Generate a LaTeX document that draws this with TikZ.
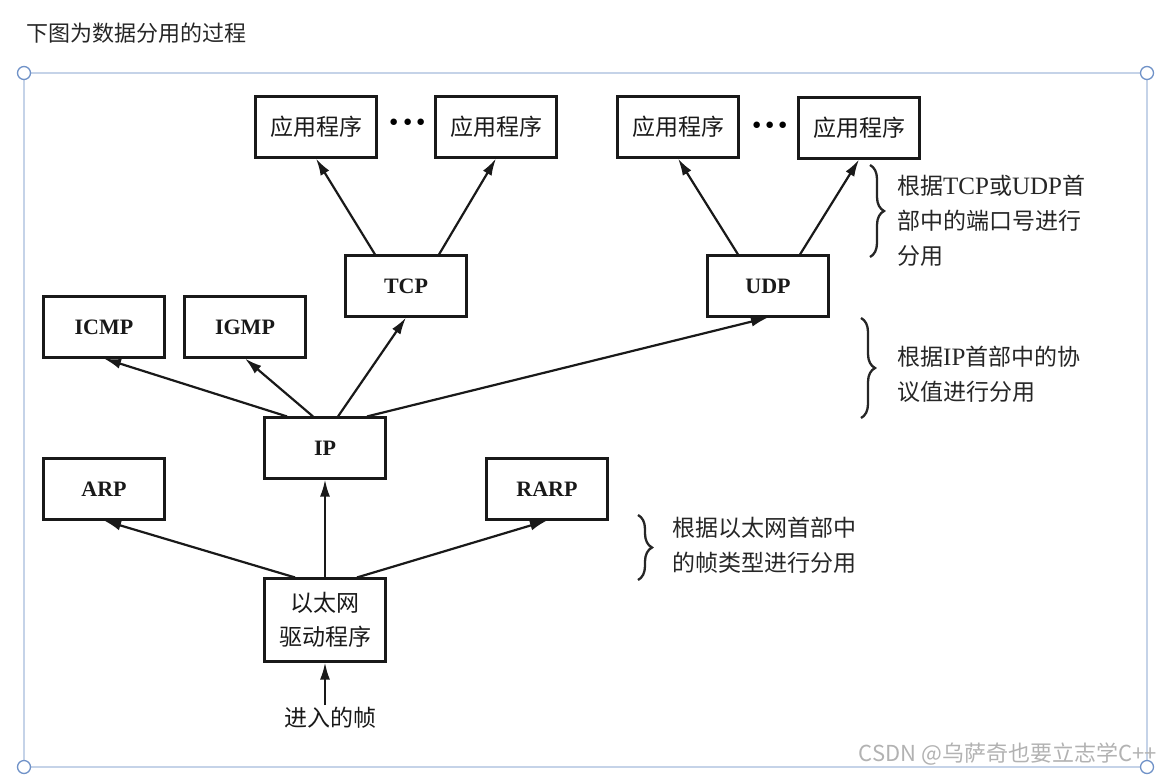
\documentclass[tikz,border=0pt]{standalone}
\usepackage{fontspec}
\setmainfont{Liberation Serif}
\newfontfamily\cjk{Noto Sans CJK SC}
\usetikzlibrary{arrows.meta,decorations.pathreplacing}
\definecolor{framecol}{HTML}{C5D3E8}
\definecolor{handlecol}{HTML}{7092C8}
\newcommand\latin[1]{{\rmfamily\fontsize{25}{35}\selectfont #1}}

\begin{document}
\begin{tikzpicture}
	[
		x=1pt, y=-1pt,
		box/.style = {
			shape=rectangle, draw=black!90, line width=2.1pt,
			minimum width=121pt, minimum height=61pt,
			align=center, text=black!90, inner sep=0pt
		},
		proto/.style = {box, font=\fontsize{22}{22}\selectfont\bfseries},
		app/.style = {box, font=\fontsize{23}{23}\selectfont\cjk},
		arr/.style = {-{Latex[length=17pt,width=10pt]}, line width=2.2pt, draw=black!90},
		note/.style = {
			anchor=north west, align=left, inner sep=0pt, text=black!85,
			font=\fontsize{23}{35}\selectfont\cjk
		},
		brace/.style = {decorate, decoration={brace, amplitude=14pt}, line width=2.3pt, draw=black!85},
		handle/.style = {circle, draw=handlecol, fill=white, line width=1.3pt, minimum size=13pt, inner sep=0pt},
		ellipsis/.style = {inner sep=0pt, font=\fontsize{40}{40}\selectfont\bfseries}
	]
	\useasboundingbox (0,0) rectangle (1164,777);

	% page around the figure
	\node[anchor=west, text=black!85, font=\fontsize{22}{22}\selectfont\cjk] (title) at (23,33) {下图为数据分用的过程};
	\draw[framecol, line width=1.8pt] (24,73) rectangle (1147,767);
	\foreach \cx/\cy in {24/73, 1147/73, 1147/767, 24/767}
		\node[handle] at (\cx,\cy) {};

	% applications
	\node[app] (app1) at (316,127) {应用程序};
	\node[app] (app2) at (496,127) {应用程序};
	\node[app] (app3) at (678,127) {应用程序};
	\node[app] (app4) at (859,128) {应用程序};
	\node[ellipsis] (dots1) at (408,127) {···};
	\node[ellipsis] (dots2) at (770,130) {···};

	% transport, network, link
	\node[proto] (tcp) at (406,286) {TCP};
	\node[proto] (udp) at (768,286) {UDP};
	\node[proto] (icmp) at (104,327) {ICMP};
	\node[proto] (igmp) at (245,327) {IGMP};
	\node[proto] (ip) at (325,448) {IP};
	\node[proto] (arp) at (104,489) {ARP};
	\node[proto] (rarp) at (547,489) {RARP};
	\node[app, minimum height=83pt, font=\fontsize{23}{34}\selectfont\cjk] (eth) at (325,620) {以太网\\驱动程序};
	\node[inner sep=2pt, text=black!90, font=\fontsize{23}{23}\selectfont\cjk] (frame) at (330,718) {进入的帧};

	% arrows
	\draw[arr] (frame.north -| eth.south) -- (eth.south);
	\draw[arr] ([xshift=-30pt]eth.north) -- (arp.south);
	\draw[arr] (eth.north) -- (ip.south);
	\draw[arr] ([xshift=32pt]eth.north) -- (rarp.south);
	\draw[arr] ([xshift=-38pt]ip.north) -- (icmp.south);
	\draw[arr] ([xshift=-12pt]ip.north) -- (igmp.south);
	\draw[arr] ([xshift=13pt]ip.north) -- (tcp.south);
	\draw[arr] ([xshift=42pt]ip.north) -- (udp.south);
	\draw[arr] ([xshift=-31pt]tcp.north) -- (app1.south);
	\draw[arr] ([xshift=33pt]tcp.north) -- (app2.south);
	\draw[arr] ([xshift=-30pt]udp.north) -- (app3.south);
	\draw[arr] ([xshift=32pt]udp.north) -- (app4.south);

	% demultiplexing notes
	\draw[brace] (870,165) -- (870,257);
	\node[note] (note1) at (897,175) {根据\latin{TCP}或\latin{UDP}首\\部中的端口号进行\\分用};
	\draw[brace] (861,318) -- (861,418);
	\node[note] (note2) at (897,346) {根据\latin{IP}首部中的协\\议值进行分用};
	\draw[brace] (638,515) -- (638,580);
	\node[note] (note3) at (672,517) {根据以太网首部中\\的帧类型进行分用};

	\node[anchor=base east, text=black!30, font=\fontsize{22}{22}\selectfont\cjk] (mark) at (1160,761) {CSDN @乌萨奇也要立志学C++};
\end{tikzpicture}
\end{document}
